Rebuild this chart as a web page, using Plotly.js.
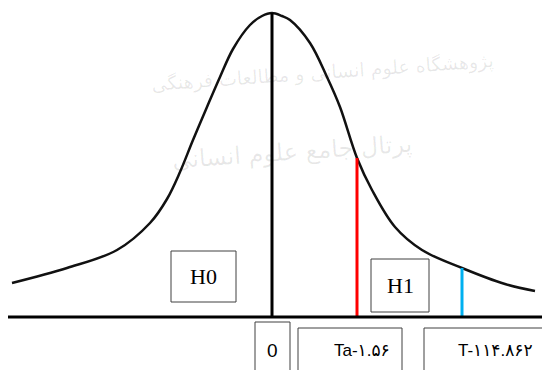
<!DOCTYPE html>
<html>
<head>
<meta charset="utf-8">
<script src="https://cdn.plot.ly/plotly-3.0.1.min.js"></script>
<style>
  html, body { margin: 0; padding: 0; background: #fff; }
  #chart { width: 542px; height: 370px; }
</style>
</head>
<body>
<div id="chart"></div>
<script>
// curve: x relative to the centre line, height above the baseline
const curveX = [-260, -205, -155, -122, -105, -92, -79, -65, -52, -39, -22, -10, 0, 10, 18, 38, 55, 68, 85, 100, 123, 150, 190, 233, 263];
const curveY = [34, 49, 67, 94, 118, 145, 177, 210, 240, 268, 292, 301, 304, 301, 297, 274, 240, 210, 159, 127, 90, 67, 49, 33, 26];

// the three vertical markers: centre, Ta, T
const markX = [0, 85, 190];
const markTop = [304, 159, 49];
const markColor = ['#000000', '#ff0000', '#00b0f0'];

const hypLabels = ['H0', 'H1'];
const hypX = [-68.5, 128];
const hypY = [40.5, 31.5];

const axisLabels = ['0', 'Ta-۱.۵۶', 'T-۱۱۴.۸۶۲'];
const axisLabelX = [0, 90, 223];

const watermark = ['پژوهشگاه علوم انسانی و مطالعات فرهنگی', 'پرتال جامع علوم انسانی'];

const traces = [{
    x: curveX,
    y: curveY,
    mode: 'lines',
    line: { color: '#111', width: 2.5, shape: 'spline', smoothing: 1 },
    hoverinfo: 'skip'
}];

markX.forEach((mx, i) => {
    traces.push({
        x: [mx, mx],
        y: [0, markTop[i]],
        mode: 'lines',
        line: { color: markColor[i], width: 3 },
        hoverinfo: 'skip'
    });
});

const box = (x0, x1, y0, y1) => ({
    type: 'rect', xref: 'x', yref: 'y', x0, x1, y0, y1,
    line: { color: '#404040', width: 1 }, layer: 'below'
});

const shapes = [
    { type: 'line', xref: 'x', yref: 'y', x0: -264, x1: 272, y0: 0, y1: 0, line: { color: '#000', width: 3 } },
    box(-101, -36, 15, 66),
    box(99, 157, 5, 58),
    box(-17, 18, -5, -70),
    box(26, 130, -11, -70),
    box(152, 290, -11, -70)
];

const annotations = [];
watermark.forEach((t, i) => {
    annotations.push({
        x: i === 0 ? 50 : 20, y: i === 0 ? 245 : 165,
        text: t, showarrow: false, textangle: -4,
        font: { family: 'DejaVu Sans', size: i === 0 ? 19 : 24, color: 'rgba(0,0,0,0.09)' }
    });
});
hypLabels.forEach((t, i) => {
    annotations.push({
        x: hypX[i], y: hypY[i], text: t, showarrow: false,
        font: { family: 'Liberation Serif', size: 22, color: '#000' }
    });
});
axisLabels.forEach((t, i) => {
    annotations.push({
        x: axisLabelX[i], y: -33, text: t, showarrow: false,
        font: { family: 'Liberation Sans, DejaVu Sans', size: i === 0 ? 19 : 17, color: '#000' }
    });
});

Plotly.newPlot('chart', traces, {
    width: 542,
    height: 370,
    margin: { l: 0, r: 0, t: 0, b: 0 },
    paper_bgcolor: '#fff',
    plot_bgcolor: '#fff',
    showlegend: false,
    xaxis: { range: [-272, 270], visible: false, fixedrange: true },
    yaxis: { range: [-53, 317], visible: false, fixedrange: true },
    shapes: shapes,
    annotations: annotations
}, { staticPlot: true });
</script>
</body>
</html>
